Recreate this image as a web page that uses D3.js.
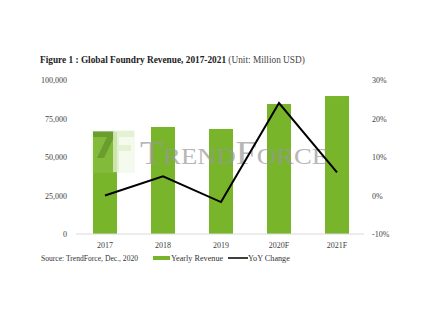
<!DOCTYPE html>
<html><head><meta charset="utf-8">
<script src="https://cdn.jsdelivr.net/npm/d3@7"></script>
<style>body{margin:0;background:#fff}svg{display:block}</style>
</head><body>
<script>
const categories = ["2017","2018","2019","2020F","2021F"];
const revenue = [66200, 69500, 68200, 84400, 89600];
const yoy = [0, 5, -1.7, 24, 6];
const leftTicks = [0, 25000, 50000, 75000, 100000];
const rightTicks = [-10, 0, 10, 20, 30];
const yoyLabels = [null, null, null, "24%", "6%"];

const W = 430, H = 325;
const svg = d3.select("body").append("svg").attr("width", W).attr("height", H);
const serif = "'Liberation Serif','DejaVu Serif',serif";
const green = "#78B52B";

const x = d3.scaleBand().domain(categories).range([76, 366]).paddingInner(0.586).paddingOuter(0.293);
const yL = d3.scaleLinear().domain([0, 100000]).range([234, 80]);
const yR = d3.scaleLinear().domain([-10, 30]).range([234, 80]);

// title
const title = svg.append("text").attr("x", 40).attr("y", 63)
  .attr("font-family", serif).attr("font-size", 9.3).attr("fill", "#222");
title.append("tspan").attr("font-weight", "bold").text("Figure 1 : Global Foundry Revenue, 2017-2021 ");
title.append("tspan").attr("fill", "#444").text("(Unit: Million USD)");

// bars
svg.selectAll("rect.bar").data(revenue).enter().append("rect")
  .attr("class", "bar")
  .attr("x", (d, i) => x(categories[i]))
  .attr("width", x.bandwidth())
  .attr("y", d => yL(d))
  .attr("height", d => yL(0) - yL(d))
  .attr("fill", green);

// baseline
svg.append("line").attr("x1", 76).attr("x2", 364).attr("y1", yL(0)).attr("y2", yL(0))
  .attr("stroke", "#d9d9d9").attr("stroke-width", 1);

// watermark logo
const wm = svg.append("g");
wm.append("path").attr("d", "M93,131 L114,131 L114,137 L104,158 L97,158 L107,137 L93,137 Z")
  .attr("fill", "#3f6e12").attr("opacity", 0.5);
wm.append("path").attr("d", "M113,131 L134,131 L134,137 L119,137 L119,145 L131,145 L131,151 L119,151 L119,172 L113,172 Z")
  .attr("fill", "#e6f2d6").attr("opacity", 0.8);
wm.append("rect").attr("x", 91).attr("y", 130).attr("width", 44).attr("height", 43)
  .attr("fill", "#bfe08f").attr("opacity", 0.15);
wm.append("text").attr("x", 140).attr("y", 164)
  .attr("font-family", serif).attr("font-size", 34).attr("fill", "#999").attr("opacity", 0.7)
  .attr("textLength", 188).attr("lengthAdjust", "spacingAndGlyphs")
  .style("font-variant", "small-caps").text("TrendForce");

// line
const line = d3.line().x((d, i) => x(categories[i]) + x.bandwidth() / 2).y(d => yR(d));
svg.append("path").datum(yoy).attr("d", line).attr("fill", "none")
  .attr("stroke", "#000").attr("stroke-width", 2).attr("stroke-linejoin", "miter");

// line labels
svg.selectAll("text.yl").data(yoy).enter().filter((d, i) => yoyLabels[i]).append("text")
  .attr("class", "yl")
  .attr("x", (d, i) => i === 3 ? x(categories[i]) + x.bandwidth() / 2 + 3 : x(categories[i]) + x.bandwidth() / 2 + 7)
  .attr("y", (d, i) => i === 3 ? yR(d) - 5 : yR(d) + 3)
  .attr("font-family", serif).attr("font-size", 7.5).attr("fill", "#404040")
  .text((d, i) => yoyLabels[i]);

// left axis labels
svg.selectAll("text.lt").data(leftTicks).enter().append("text")
  .attr("class", "lt").attr("x", 67).attr("y", d => yL(d) + 3)
  .attr("text-anchor", "end").attr("font-family", serif).attr("font-size", 8).attr("fill", "#404040")
  .text(d => d3.format(",")(d));

// right axis labels
svg.selectAll("text.rt").data(rightTicks).enter().append("text")
  .attr("class", "rt").attr("x", 372).attr("y", d => yR(d) + 3)
  .attr("font-family", serif).attr("font-size", 8).attr("fill", "#404040")
  .text(d => d + "%");

// category labels
svg.selectAll("text.cat").data(categories).enter().append("text")
  .attr("class", "cat").attr("x", d => x(d) + x.bandwidth() / 2).attr("y", 248)
  .attr("text-anchor", "middle").attr("font-family", serif).attr("font-size", 8).attr("fill", "#404040")
  .text(d => d);

// source
svg.append("text").attr("x", 41).attr("y", 261).attr("font-family", serif).attr("font-size", 7.6)
  .attr("fill", "#333").text("Source: TrendForce, Dec., 2020");

// legend
svg.append("rect").attr("x", 153).attr("y", 256).attr("width", 17).attr("height", 4).attr("fill", green);
svg.append("text").attr("x", 171).attr("y", 261).attr("font-family", serif).attr("font-size", 8.2)
  .attr("fill", "#333").text("Yearly Revenue");
svg.append("line").attr("x1", 228).attr("x2", 248).attr("y1", 258).attr("y2", 258)
  .attr("stroke", "#000").attr("stroke-width", 1.5);
svg.append("text").attr("x", 248).attr("y", 261).attr("font-family", serif).attr("font-size", 8.2)
  .attr("fill", "#333").text("YoY Change");
</script>
</body></html>
